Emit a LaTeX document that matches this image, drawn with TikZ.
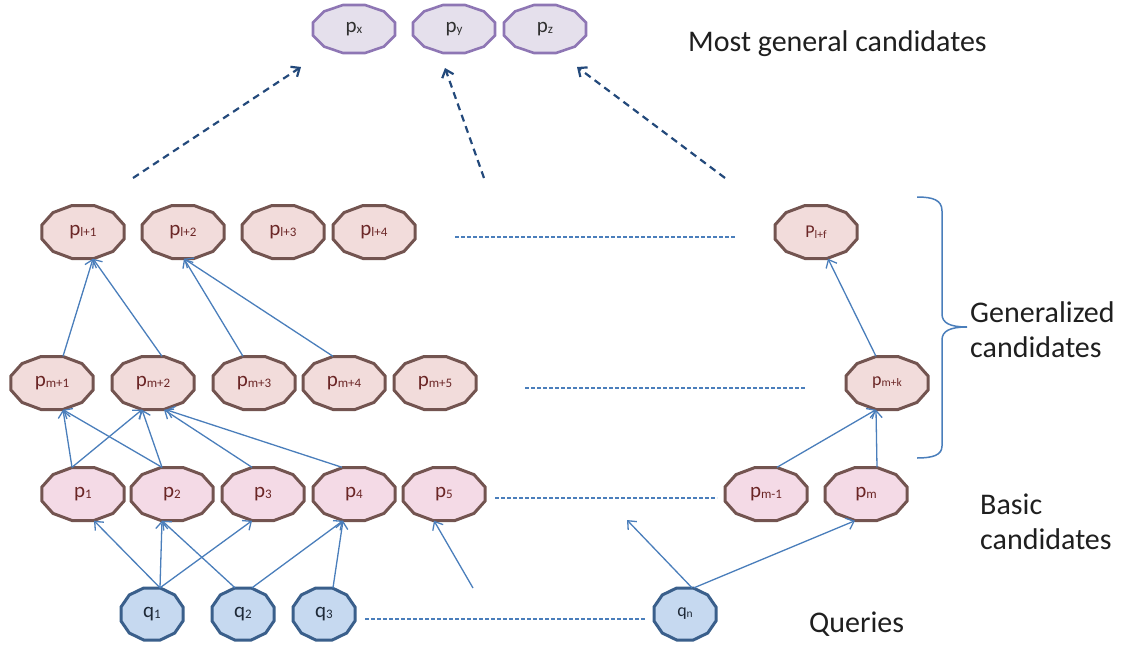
\documentclass[tikz,border=0pt]{standalone}
\usepackage{fontspec}
\setmainfont{Carlito}
\usetikzlibrary{arrows.meta}

\definecolor{linkblue}{HTML}{4A7EBB}
\definecolor{navy}{HTML}{23497B}
\definecolor{purpleline}{HTML}{8E76B4}
\definecolor{purplefill}{HTML}{E5E0EC}
\definecolor{rosefill}{HTML}{F2DCDB}
\definecolor{pinkfill}{HTML}{F4DAE6}
\definecolor{brownline}{HTML}{735450}
\definecolor{skyfill}{HTML}{C6D9F0}
\definecolor{steelline}{HTML}{3A5F8B}
\definecolor{wine}{HTML}{6B2626}
\definecolor{ink}{HTML}{303030}
\definecolor{qink}{HTML}{1F2A38}

% candidate: name, x, y, width, height, kind, label
\newcommand{\cand}[7]{%
  \filldraw[#6 shape, shift={(#2,#3)}, xscale=#4/2, yscale=#5/2]
    (15:1.0353) -- (45:1.0353) -- (75:1.0353) -- (105:1.0353) --
    (135:1.0353) -- (165:1.0353) -- (195:1.0353) -- (225:1.0353) --
    (255:1.0353) -- (285:1.0353) -- (315:1.0353) -- (345:1.0353) -- cycle;
  \node[#6 label, minimum width=#4pt, minimum height=#5pt, inner sep=0pt] (#1) at (#2,#3) {#7};
}
% symbol with a small lowered index
\newcommand{\sym}[2]{{\fontsize{21pt}{21pt}\selectfont #1}\raisebox{-1pt}{\fontsize{13pt}{13pt}\selectfont #2}}
\newcommand{\symsm}[2]{{\fontsize{18pt}{18pt}\selectfont #1}\raisebox{-1pt}{\fontsize{11.5pt}{11.5pt}\selectfont #2}}

\tikzset{
  top shape/.style={draw=purpleline, fill=purplefill, line width=2.6pt},
  top label/.style={text=ink},
  gen shape/.style={draw=brownline, fill=rosefill, line width=3pt},
  gen label/.style={text=wine},
  basic shape/.style={draw=brownline, fill=pinkfill, line width=3pt},
  basic label/.style={text=wine},
  query shape/.style={draw=steelline, fill=skyfill, line width=3pt},
  query label/.style={text=qink},
  link/.style={draw=linkblue, line width=1.3pt, -{Straight Barb[length=7pt,width=12pt]}},
  lift/.style={draw=navy, line width=2.2pt, dash pattern=on 7pt off 5pt, -{Straight Barb[length=7pt,width=12pt]}},
  gap/.style={draw=linkblue, line width=1.2pt, dash pattern=on 4pt off 2pt},
  bracket/.style={draw=linkblue, line width=1.5pt},
  heading/.style={font=\fontsize{30pt}{35pt}\selectfont, text=black!88, inner sep=0pt, align=left}
}

\begin{document}
\begin{tikzpicture}[x=1pt, y=-1pt]
\useasboundingbox (0,0) rectangle (1130,645);

% most general candidates
\cand{px}{354}{29}{82}{48}{top}{\sym{p}{x}}
\cand{py}{454}{29}{82}{48}{top}{\sym{p}{y}}
\cand{pz}{545}{29}{82}{48}{top}{\sym{p}{z}}

% generalized candidates, upper level
\cand{pl1}{83}{232}{82}{53}{gen}{\sym{p}{l+1}}
\cand{pl2}{183}{232}{82}{53}{gen}{\sym{p}{l+2}}
\cand{pl3}{283}{232}{82}{53}{gen}{\sym{p}{l+3}}
\cand{pl4}{374}{232}{82}{53}{gen}{\sym{p}{l+4}}
\cand{plf}{816}{232}{82}{53}{gen}{\symsm{P}{l+f}}

% generalized candidates, lower level
\cand{pm1}{52}{383}{82}{53}{gen}{\sym{p}{m+1}}
\cand{pm2}{153}{383}{82}{53}{gen}{\sym{p}{m+2}}
\cand{pm3}{254}{383}{82}{53}{gen}{\sym{p}{m+3}}
\cand{pm4}{344}{383}{82}{53}{gen}{\sym{p}{m+4}}
\cand{pm5}{435}{383}{82}{53}{gen}{\sym{p}{m+5}}
\cand{pmk}{887}{383}{82}{53}{gen}{\symsm{p}{m+k}}

% basic candidates
\cand{p1}{83}{494}{82}{53}{basic}{\sym{p}{1}}
\cand{p2}{172}{494}{82}{53}{basic}{\sym{p}{2}}
\cand{p3}{263}{494}{82}{53}{basic}{\sym{p}{3}}
\cand{p4}{354}{494}{82}{53}{basic}{\sym{p}{4}}
\cand{p5}{444}{494}{82}{53}{basic}{\sym{p}{5}}
\cand{pmm}{766}{494}{82}{53}{basic}{\sym{p}{m-1}}
\cand{pm}{866}{494}{82}{53}{basic}{\sym{p}{m}}

% queries
\cand{q1}{152}{614}{62}{52}{query}{\sym{q}{1}}
\cand{q2}{243}{614}{62}{52}{query}{\sym{q}{2}}
\cand{q3}{324}{614}{62}{52}{query}{\sym{q}{3}}
\cand{qn}{685}{614}{62}{52}{query}{\symsm{q}{n}}

% free ends
\coordinate (s5) at (473,588);
\coordinate (t5) at (627,520);
\coordinate (ua) at (133,178);
\coordinate (va) at (301,67);
\coordinate (ub) at (484,178);
\coordinate (vb) at (445,68);
\coordinate (uc) at (725,178);
\coordinate (vc) at (577,67);
\coordinate (gl1) at (455,237);
\coordinate (gl2) at (735,237);
\coordinate (gm1) at (525,388);
\coordinate (gm2) at (806,388);
\coordinate (gb1) at (495,498);
\coordinate (gb2) at (717,498);
\coordinate (gq1) at (365,619);
\coordinate (gq2) at (646,619);

% queries to basic candidates
\draw[link] ([xshift=8pt]q1.north) -- ([xshift=11pt]p1.south);
\draw[link] ([xshift=8pt]q1.north) -- ([xshift=-10pt]p2.south);
\draw[link] ([xshift=8pt]q1.north) -- ([xshift=-11pt]p3.south);
\draw[link] ([xshift=-8pt]q2.north) -- ([xshift=-10pt]p2.south);
\draw[link] ([xshift=9pt]q2.north) -- ([xshift=-11pt]p4.south);
\draw[link] ([xshift=9pt]q3.north) -- ([xshift=-11pt]p4.south);
\draw[link] (s5) -- ([xshift=-10pt]p5.south);
\draw[link] ([xshift=7pt]qn.north) -- (t5);
\draw[link] ([xshift=9pt]qn.north) -- ([xshift=-11pt]pm.south);

% basic to lower generalized level
\draw[link] ([xshift=-11pt]p1.north) -- ([xshift=11pt]pm1.south);
\draw[link] ([xshift=-11pt]p1.north) -- ([xshift=-11pt]pm2.south);
\draw[link] ([xshift=-10pt]p2.north) -- ([xshift=11pt]pm1.south);
\draw[link] ([xshift=-10pt]p2.north) -- ([xshift=-11pt]pm2.south);
\draw[link] ([xshift=-11pt]p3.north) -- ([xshift=11pt]pm2.south);
\draw[link] ([xshift=-12pt]p4.north) -- ([xshift=13pt]pm2.south);
\draw[link] ([xshift=11pt]pmm.north) -- ([xshift=-11pt]pmk.south);
\draw[link] ([xshift=11pt]pm.north) -- ([xshift=-11pt]pmk.south);

% lower to upper generalized level
\draw[link] ([xshift=11pt]pm1.north) -- ([xshift=10pt]pl1.south);
\draw[link] ([xshift=9pt]pm2.north) -- ([xshift=10pt]pl1.south);
\draw[link] ([xshift=-11pt]pm3.north) -- ([xshift=1pt]pl2.south);
\draw[link] ([xshift=-11pt]pm4.north) -- ([xshift=1pt]pl2.south);
\draw[link] ([xshift=-11pt]pmk.north) -- ([xshift=12pt]plf.south);

% towards the most general candidates
\draw[lift] (ua) -- (va);
\draw[lift] (ub) -- (vb);
\draw[lift] (uc) -- (vc);

% elided members of each level
\draw[gap] (gl1) -- (gl2);
\draw[gap] (gm1) -- (gm2);
\draw[gap] (gb1) -- (gb2);
\draw[gap] (gq1) -- (gq2);

% bracket over the generalized levels
\draw[bracket] (917,197) .. controls (933,197) and (942,200) .. (942,211)
  -- (942,314) .. controls (942,323) and (950,327) .. (967,327)
  .. controls (950,327) and (942,331) .. (942,340)
  -- (942,446) .. controls (942,455) and (933,458) .. (917,458);

% level captions (base anchor sits on the last line)
\node[heading, anchor=base west] (tmg) at (688,51) {Most general candidates};
\node[heading, anchor=base west] (tgc) at (970,357) {Generalized\\candidates};
\node[heading, anchor=base west] (tbc) at (980,549) {Basic\\candidates};
\node[heading, anchor=base west] (tq) at (809,632) {Queries};
\end{tikzpicture}
\end{document}
